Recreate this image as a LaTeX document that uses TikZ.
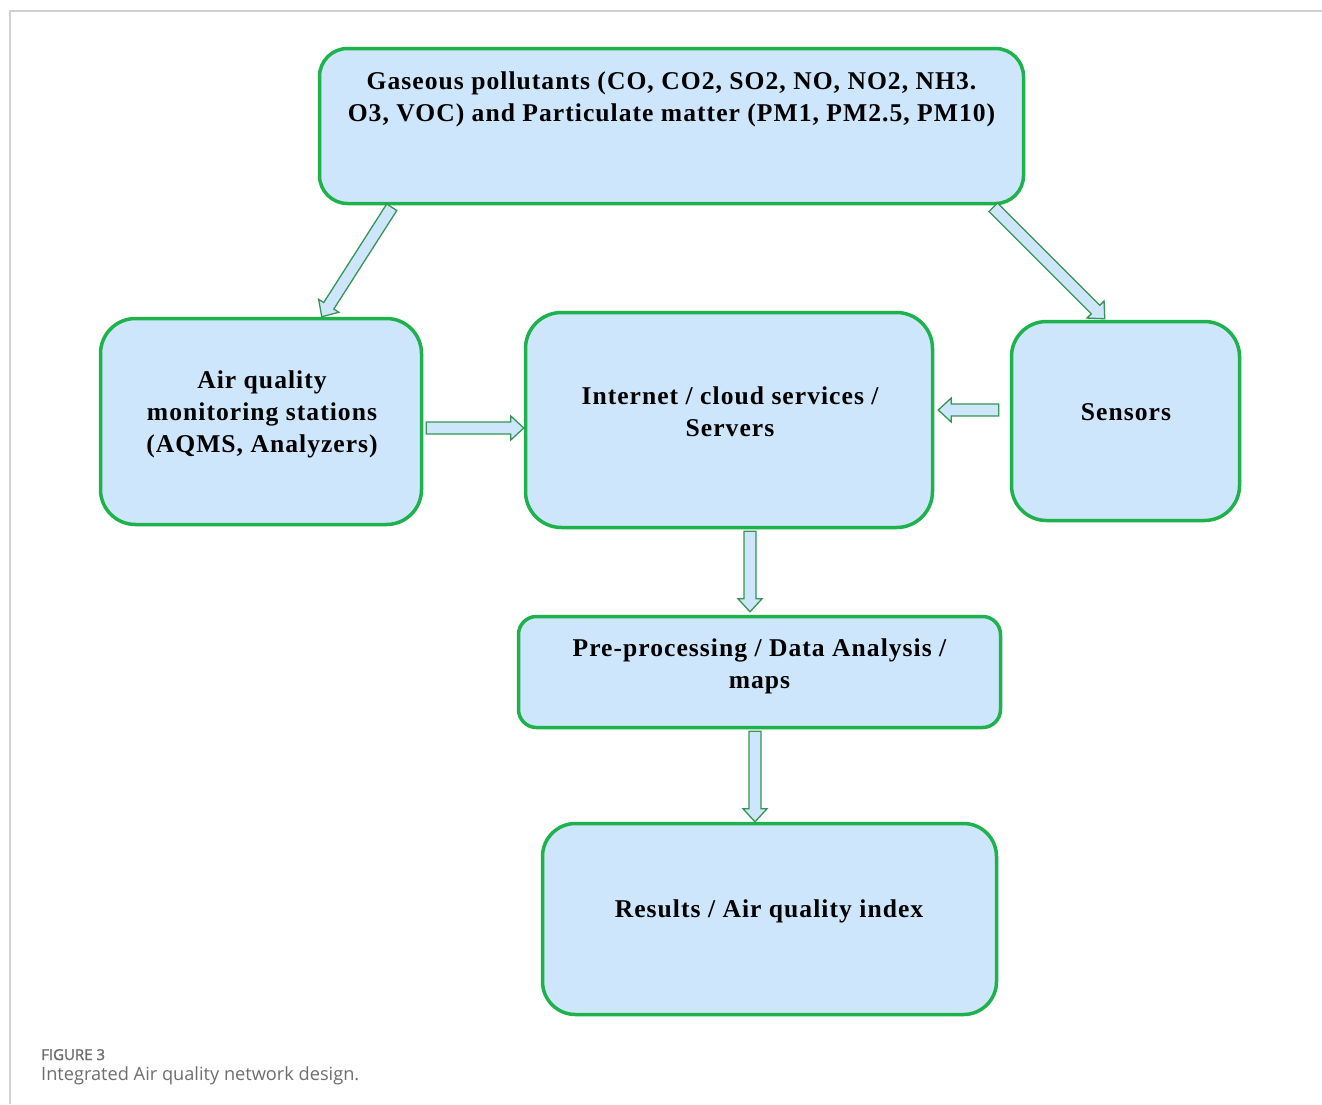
\documentclass[tikz,border=0pt]{standalone}
\usepackage{fontspec}
\setmainfont{Liberation Serif}
\newfontfamily\capfont{Open Sans}
\usetikzlibrary{calc}
\definecolor{boxfill}{RGB}{206,230,252}
\definecolor{boxline}{RGB}{30,178,76}
\definecolor{arrline}{RGB}{52,150,82}
\definecolor{framegray}{RGB}{208,208,208}
\definecolor{capgray}{RGB}{110,110,110}
\tikzset{
  box/.style={draw=boxline, line width=3.5pt, fill=boxfill, inner sep=0pt},
  boxtext/.style={font=\bfseries\fontsize{25.6}{32}\selectfont\addfontfeature{LetterSpace=4}, align=center, text=black, inner sep=0pt},
  barrow/.style={draw=arrline, line width=1.3pt, fill=boxfill, line join=miter},
  frame/.style={draw=framegray, line width=1.5pt}
}
\newcommand{\blockarrow}[2]{%
  \draw[barrow] let \p1=(#1), \p2=(#2), \n1={atan2(\y2-\y1,\x2-\x1)}, \n2={veclen(\x2-\x1,\y2-\y1)} in
   [shift={(\p1)}, rotate=\n1] (0pt,-6pt) -- ({\n2*1pt-13pt},-6pt) -- ({\n2*1pt-13pt},-12pt) -- ({\n2*1pt},0pt) -- ({\n2*1pt-13pt},12pt) -- ({\n2*1pt-13pt},6pt) -- (0pt,6pt) -- cycle;}
\begin{document}
\begin{tikzpicture}[x=1pt,y=-1pt]
\useasboundingbox (0,0) rectangle (1322,1104);
\fill[white] (0,0) rectangle (1322,1104);
\coordinate (fA) at (1322,11);
\coordinate (fB) at (10,11);
\coordinate (fC) at (10,1104);
\draw[frame] (fA) -- (fB) -- (fC);

\node[box, rounded corners=28pt, minimum width=704pt, minimum height=155pt] (top) at (671.5,126) {};
\node[box, rounded corners=35pt, minimum width=321pt, minimum height=206pt] (aqms) at (261,421.5) {};
\node[box, rounded corners=36pt, minimum width=407pt, minimum height=215pt] (inet) at (729,420) {};
\node[box, rounded corners=35pt, minimum width=228pt, minimum height=199pt] (sens) at (1125.5,421) {};
\node[box, rounded corners=18pt, minimum width=482pt, minimum height=111pt] (pre) at (759.5,672) {};
\node[box, rounded corners=33pt, minimum width=454pt, minimum height=191pt] (res) at (769.5,919) {};

\node[boxtext] (topT) at (671.5,99.5) {Gaseous pollutants (CO, CO2, SO2, NO, NO2, NH3.\\O3, VOC) and Particulate matter (PM1, PM2.5, PM10)};
\node[boxtext] (aqmsT) at (262,414.5) {Air quality\\monitoring stations\\(AQMS, Analyzers)};
\node[boxtext] (inetT) at (730,411.5) {Internet / cloud services /\\Servers};
\node[boxtext] (sensT) at (1126,412) {Sensors};
\node[boxtext] (preT) at (759.5,666.5) {Pre-processing / Data Analysis /\\maps};
\node[boxtext] (resT) at (769,911.5) {Results / Air quality index};

\coordinate (a1s) at ($(top.south west)+(74,2)$);
\coordinate (a1e) at ($(aqms.north west)+(223,0)$);
\coordinate (a2s) at ($(top.south east)+(-32,2)$);
\coordinate (a2e) at ($(sens.north west)+(95,-1)$);
\coordinate (a3s) at ($(aqms.east)+(3,6.5)$);
\coordinate (a3e) at ($(inet.west)+(0,8)$);
\coordinate (a4s) at ($(sens.west)+(-11,-11)$);
\coordinate (a4e) at ($(inet.east)+(4,-10)$);
\coordinate (a5s) at ($(inet.south)+(21,2)$);
\coordinate (a5e) at ($(pre.north)+(-9.5,-3)$);
\coordinate (a6s) at ($(pre.south)+(-4.5,2)$);
\coordinate (a6e) at ($(res.north)+(-14.5,0)$);
\blockarrow{a1s}{a1e}
\blockarrow{a2s}{a2e}
\blockarrow{a3s}{a3e}
\blockarrow{a4s}{a4e}
\blockarrow{a5s}{a5e}
\blockarrow{a6s}{a6e}

\node[anchor=base west, inner sep=0pt, text=capgray, font=\capfont\fontsize{15}{17}\selectfont\addfontfeature{FakeBold=1.5}] (cap1) at (41,1060) {FIGURE 3};
\node[anchor=base west, inner sep=0pt, text=capgray, font=\capfont\fontsize{18.2}{21}\selectfont] (cap2) at (41,1080) {Integrated Air quality network design.};
\end{tikzpicture}
\end{document}
